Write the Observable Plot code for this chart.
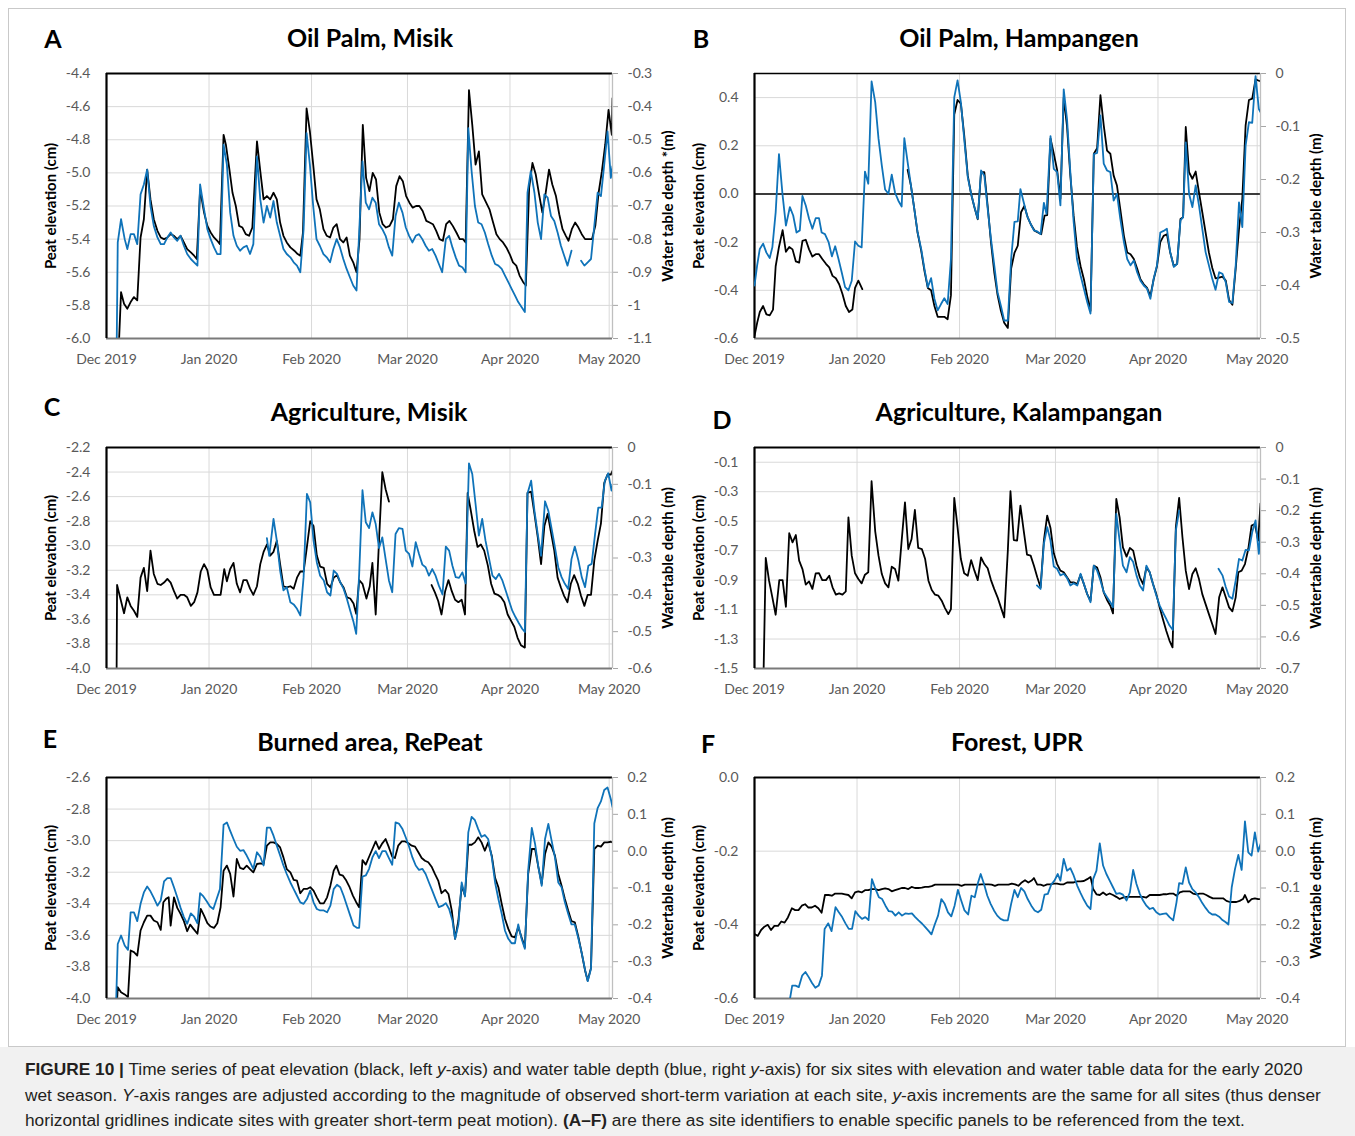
<!DOCTYPE html>
<html><head><meta charset="utf-8">
<script src="https://cdn.jsdelivr.net/npm/d3@7"></script>
<script src="https://cdn.jsdelivr.net/npm/@observablehq/plot@0.6"></script>
<style>
body{margin:0;background:#fff;}
#root{position:relative;width:1355px;height:1136px;overflow:hidden;font-family:Lato,"Open Sans",sans-serif;}
.abs{position:absolute;}
.title{font-weight:700;font-size:25px;color:#000;transform:translate(-50%,-50%);white-space:nowrap;}
.letter{font-weight:700;font-size:25px;color:#000;transform:translate(-50%,-50%);}
.ylab{font-weight:700;font-size:15px;color:#000;transform:translate(-50%,-50%) rotate(-90deg);white-space:nowrap;}
.cap{font-family:"Liberation Sans",Arial,sans-serif;font-size:17.3px;line-height:25.5px;color:#231f20;white-space:nowrap;}
</style></head>
<body><div id="root"></div>
<script>
// ---- shared axis ticks ----
const monthTicks = ["2019-12-01","2020-01-01","2020-02-01","2020-03-01","2020-04-01","2020-05-01"];

// ---- Panel A: Oil Palm, Misik ----
const A_leftTicks = [-6.0,-5.8,-5.6,-5.4,-5.2,-5.0,-4.8,-4.6,-4.4];
const A_rightTicks = [-1.1,-1.0,-0.9,-0.8,-0.7,-0.6,-0.5,-0.4,-0.3];
const A_peat = [[3.2,-6.3],[4.4,-5.72],[5.3,-5.79],[6.3,-5.82],[7.3,-5.78],[8.3,-5.75],[9.3,-5.77],[10.3,-5.39],[11.3,-5.28],[12.3,-4.98],[13.3,-5.16],[14.3,-5.28],[15.4,-5.35],[16.4,-5.39],[17.4,-5.40],[18.4,-5.39],[19.4,-5.37],[20.4,-5.38],[21.4,-5.40],[22.4,-5.38],[23.4,-5.42],[24.4,-5.46],[25.5,-5.48],[26.5,-5.50],[27.3,-5.52],[28.3,-5.10],[29.5,-5.24],[30.5,-5.32],[31.5,-5.36],[32.5,-5.39],[33.5,-5.41],[34.3,-5.43],[35.4,-4.77],[36.1,-4.83],[37.1,-4.97],[38.1,-5.12],[39.1,-5.20],[40.1,-5.32],[41.1,-5.33],[42.1,-5.37],[43.1,-5.38],[44.1,-5.33],[45.5,-4.81],[46.5,-4.99],[47.5,-5.16],[48.5,-5.14],[49.5,-5.16],[50.5,-5.12],[51.5,-5.16],[52.5,-5.30],[53.5,-5.38],[54.5,-5.42],[55.6,-5.45],[56.8,-5.47],[57.8,-5.49],[58.6,-5.50],[59.4,-5.36],[60.5,-4.61],[61.5,-4.75],[62.5,-4.95],[63.5,-5.16],[64.5,-5.22],[65.6,-5.34],[66.6,-5.38],[67.6,-5.39],[68.6,-5.33],[69.6,-5.31],[70.6,-5.40],[71.6,-5.42],[72.6,-5.39],[73.6,-5.50],[74.6,-5.54],[75.6,-5.60],[76.5,-5.40],[77.5,-4.71],[78.5,-5.03],[79.5,-5.11],[80.5,-5.00],[81.5,-5.04],[82.5,-5.24],[83.5,-5.31],[84.5,-5.33],[85.6,-5.32],[86.6,-5.28],[87.6,-5.08],[88.6,-5.02],[89.6,-5.05],[90.6,-5.14],[91.6,-5.18],[92.6,-5.21],[93.6,-5.20],[94.6,-5.20],[95.6,-5.23],[96.7,-5.29],[97.7,-5.30],[98.7,-5.31],[99.7,-5.35],[100.7,-5.40],[101.7,-5.41],[102.7,-5.31],[103.7,-5.29],[104.7,-5.32],[105.8,-5.36],[106.8,-5.40],[107.8,-5.40],[108.6,-5.42],[109.6,-4.50],[110.6,-4.71],[111.6,-4.95],[112.6,-4.87],[113.6,-5.13],[114.8,-5.18],[115.8,-5.22],[116.9,-5.30],[117.9,-5.37],[118.9,-5.40],[119.9,-5.42],[120.9,-5.45],[121.9,-5.49],[122.9,-5.54],[123.9,-5.56],[124.9,-5.62],[126.0,-5.66],[126.8,-5.68],[127.8,-5.09],[128.8,-4.94],[129.8,-5.01],[130.8,-5.13],[131.8,-5.24],[132.8,-5.12],[133.8,-4.98],[134.8,-5.07],[135.9,-5.14],[136.9,-5.25],[137.9,-5.34],[138.9,-5.38],[139.7,-5.41],[140.7,-5.34],[141.7,-5.30],[142.7,-5.33],[143.7,-5.37],[144.7,-5.40],[145.8,-5.40],[146.8,-5.40],[147.8,-5.32],[148.8,-5.12],[149.8,-4.99],[150.8,-4.83],[151.8,-4.62],[152.8,-4.77],[153.0,-4.55]];
const A_wt = [[3.0,-1.2],[3.4,-0.81],[4.4,-0.74],[5.5,-0.80],[6.3,-0.83],[7.3,-0.785],[8.3,-0.785],[9.3,-0.815],[10.3,-0.665],[11.3,-0.635],[12.3,-0.59],[13.3,-0.70],[14.3,-0.76],[15.4,-0.795],[16.4,-0.815],[17.4,-0.815],[18.4,-0.795],[19.4,-0.78],[20.4,-0.795],[21.4,-0.805],[22.4,-0.79],[23.4,-0.82],[24.4,-0.845],[25.5,-0.86],[26.5,-0.87],[27.5,-0.88],[28.3,-0.635],[29.5,-0.71],[30.5,-0.77],[31.5,-0.80],[32.5,-0.825],[33.5,-0.845],[34.5,-0.845],[35.4,-0.515],[36.4,-0.575],[37.4,-0.72],[38.4,-0.79],[39.4,-0.82],[40.4,-0.835],[41.4,-0.825],[42.4,-0.82],[43.4,-0.845],[44.4,-0.815],[45.5,-0.55],[46.5,-0.68],[47.5,-0.75],[48.5,-0.70],[49.5,-0.735],[50.5,-0.685],[51.5,-0.75],[52.5,-0.79],[53.5,-0.83],[54.5,-0.845],[55.6,-0.855],[56.6,-0.87],[57.6,-0.88],[58.6,-0.90],[59.6,-0.77],[60.5,-0.48],[61.5,-0.575],[62.5,-0.70],[63.5,-0.80],[64.5,-0.82],[65.6,-0.845],[66.6,-0.855],[67.6,-0.87],[68.6,-0.83],[69.6,-0.80],[70.6,-0.825],[71.6,-0.86],[72.6,-0.89],[73.6,-0.915],[74.6,-0.94],[75.6,-0.955],[76.4,-0.78],[77.4,-0.565],[78.4,-0.69],[79.4,-0.71],[80.4,-0.675],[81.4,-0.69],[82.4,-0.755],[83.4,-0.77],[84.4,-0.79],[85.4,-0.825],[86.4,-0.85],[87.4,-0.73],[88.4,-0.69],[89.5,-0.72],[90.5,-0.765],[91.5,-0.79],[92.5,-0.81],[93.5,-0.79],[94.5,-0.785],[95.5,-0.80],[96.5,-0.82],[97.5,-0.835],[98.5,-0.83],[99.5,-0.85],[100.5,-0.875],[101.5,-0.90],[102.6,-0.80],[103.6,-0.79],[104.6,-0.825],[105.6,-0.855],[106.6,-0.88],[107.6,-0.885],[108.6,-0.90],[109.4,-0.465],[110.4,-0.595],[111.4,-0.70],[112.4,-0.75],[113.4,-0.755],[114.4,-0.78],[115.4,-0.815],[116.5,-0.85],[117.5,-0.875],[118.5,-0.88],[119.5,-0.89],[120.5,-0.91],[121.5,-0.93],[122.5,-0.95],[123.5,-0.97],[124.5,-0.99],[125.5,-1.005],[126.5,-1.02],[127.3,-0.66],[128.3,-0.595],[129.4,-0.66],[130.4,-0.75],[131.4,-0.80],[132.4,-0.665],[133.4,-0.675],[134.4,-0.73],[135.4,-0.745],[136.4,-0.78],[137.4,-0.82],[138.4,-0.85],[139.4,-0.88],[140.6,-0.835],[142.0,null],[143.5,-0.865],[144.5,-0.88],[145.5,-0.87],[146.5,-0.86],[147.5,-0.76],[148.5,-0.66],[149.5,-0.67],[150.5,-0.575],[151.5,-0.475],[152.5,-0.615],[153.0,-0.58]];

// ---- Panel B: Oil Palm, Hampangen ----
const B_leftTicks = [-0.6,-0.4,-0.2,0.0,0.2,0.4];
const B_rightTicks = [-0.5,-0.4,-0.3,-0.2,-0.1,0];
const B_peat = [[0,-0.59],[0.8,-0.535],[1.6,-0.49],[2.6,-0.465],[3.6,-0.50],[4.6,-0.504],[5.6,-0.48],[6.4,-0.30],[7.4,-0.22],[8.5,-0.15],[9.5,-0.24],[10.5,-0.22],[11.5,-0.23],[12.5,-0.28],[13.5,-0.285],[14.5,-0.195],[15.5,-0.19],[16.5,-0.23],[17.5,-0.26],[18.5,-0.25],[19.5,-0.25],[20.5,-0.27],[21.6,-0.29],[22.6,-0.305],[23.6,-0.34],[24.6,-0.35],[25.6,-0.375],[26.6,-0.415],[27.6,-0.465],[28.6,-0.49],[29.6,-0.48],[30.4,-0.39],[31.4,-0.36],[32.6,-0.395],[40,null],[46.3,0.10],[47.3,0.035],[48.3,-0.06],[49.3,-0.16],[50.4,-0.235],[51.4,-0.32],[52.4,-0.39],[53.4,-0.40],[54.4,-0.465],[55.4,-0.51],[56.4,-0.51],[57.4,-0.51],[58.4,-0.52],[59.4,-0.42],[60.4,0.33],[61.4,0.39],[62.4,0.375],[63.4,0.245],[64.5,0.075],[65.5,0.0],[66.5,-0.055],[67.5,-0.105],[68.5,0.09],[69.5,0.09],[70.5,-0.05],[71.5,-0.20],[72.5,-0.325],[73.5,-0.42],[74.5,-0.485],[75.5,-0.535],[76.6,-0.556],[77.6,-0.31],[78.6,-0.245],[79.6,-0.215],[80.6,-0.076],[81.6,-0.05],[82.6,-0.097],[83.7,-0.13],[84.7,-0.153],[85.7,-0.16],[86.7,-0.167],[87.7,-0.09],[88.5,-0.088],[89.5,0.23],[90.5,0.167],[91.5,0.10],[92.5,-0.02],[93.5,0.40],[94.5,0.28],[95.5,0.076],[96.5,-0.09],[97.5,-0.22],[98.6,-0.30],[99.6,-0.354],[100.6,-0.424],[101.6,-0.486],[102.6,0.167],[103.6,0.19],[104.6,0.41],[105.6,0.285],[106.6,0.18],[107.6,0.167],[108.6,0.076],[109.6,0.035],[110.6,-0.063],[111.7,-0.174],[112.7,-0.243],[113.7,-0.25],[114.7,-0.27],[115.7,-0.31],[116.7,-0.354],[117.7,-0.375],[118.7,-0.39],[119.7,-0.424],[120.7,-0.354],[121.7,-0.30],[122.7,-0.20],[123.7,-0.174],[124.7,-0.167],[125.7,-0.243],[126.8,-0.30],[127.8,-0.29],[128.8,-0.104],[129.6,-0.097],[130.4,0.278],[131.4,0.09],[132.4,0.063],[133.4,0.093],[134.4,0.007],[135.4,-0.076],[136.4,-0.16],[137.4,-0.243],[138.4,-0.306],[139.4,-0.35],[140.5,-0.347],[141.5,-0.343],[142.5,-0.36],[143.5,-0.44],[144.5,-0.46],[145.5,-0.31],[146.5,-0.146],[147.5,-0.02],[148.5,0.285],[149.5,0.39],[150.5,0.396],[151.5,0.476],[152.5,0.47],[153.0,0.468]];
const B_wt = [[0,-0.40],[0.8,-0.362],[1.6,-0.331],[2.6,-0.321],[3.6,-0.338],[4.6,-0.348],[5.4,-0.328],[6.4,-0.262],[7.4,-0.152],[8.5,-0.23],[9.5,-0.287],[10.7,-0.252],[11.7,-0.268],[12.7,-0.30],[13.7,-0.296],[14.5,-0.231],[15.5,-0.249],[16.5,-0.274],[17.5,-0.293],[18.5,-0.273],[19.5,-0.273],[20.3,-0.30],[21.3,-0.303],[22.4,-0.318],[23.4,-0.345],[24.4,-0.326],[25.4,-0.35],[26.4,-0.376],[27.4,-0.403],[28.4,-0.409],[29.4,-0.391],[30.4,-0.317],[31.4,-0.325],[32.4,-0.328],[33.4,-0.185],[34.4,-0.208],[35.4,-0.015],[36.5,-0.054],[37.5,-0.123],[38.5,-0.174],[39.5,-0.219],[40.5,-0.227],[41.5,-0.191],[42.5,-0.225],[43.5,-0.24],[44.5,-0.251],[45.3,-0.122],[46.3,-0.167],[47.3,-0.211],[48.3,-0.255],[49.3,-0.299],[50.4,-0.331],[51.4,-0.369],[52.4,-0.403],[53.4,-0.386],[54.4,-0.425],[55.4,-0.447],[56.4,-0.435],[57.4,-0.424],[58.4,-0.435],[59.4,-0.35],[60.4,-0.045],[61.4,-0.013],[62.4,-0.054],[63.4,-0.123],[64.5,-0.196],[65.5,-0.227],[66.5,-0.252],[67.5,-0.274],[68.5,-0.183],[69.5,-0.193],[70.5,-0.255],[71.5,-0.312],[72.5,-0.362],[73.5,-0.413],[74.5,-0.438],[75.5,-0.466],[76.6,-0.466],[77.6,-0.35],[78.6,-0.28],[79.6,-0.279],[80.4,-0.218],[81.4,-0.243],[82.4,-0.268],[83.5,-0.284],[84.5,-0.296],[85.5,-0.298],[86.5,-0.303],[87.5,-0.244],[88.3,-0.265],[89.5,-0.118],[90.5,-0.18],[91.5,-0.186],[92.5,-0.249],[93.5,-0.03],[94.5,-0.086],[95.5,-0.186],[96.5,-0.28],[97.5,-0.35],[98.6,-0.381],[99.6,-0.406],[100.6,-0.431],[101.6,-0.453],[102.6,-0.152],[103.6,-0.15],[104.6,-0.079],[105.6,-0.17],[106.6,-0.183],[107.6,-0.186],[108.6,-0.24],[109.6,-0.227],[110.6,-0.274],[111.7,-0.318],[112.7,-0.35],[113.7,-0.362],[114.7,-0.353],[115.7,-0.375],[116.7,-0.391],[117.7,-0.40],[118.7,-0.406],[119.7,-0.425],[120.7,-0.387],[121.7,-0.362],[122.7,-0.30],[123.7,-0.297],[124.7,-0.293],[125.7,-0.337],[126.8,-0.365],[127.8,-0.359],[128.8,-0.277],[129.6,-0.271],[130.4,-0.13],[131.4,-0.227],[132.4,-0.252],[133.4,-0.211],[134.4,-0.249],[135.4,-0.293],[136.4,-0.337],[137.4,-0.362],[138.4,-0.387],[139.4,-0.408],[140.5,-0.375],[141.5,-0.378],[142.5,-0.394],[143.5,-0.431],[144.5,-0.433],[145.5,-0.362],[146.5,-0.243],[147.5,-0.29],[148.5,-0.136],[149.5,-0.092],[150.5,-0.093],[151.5,-0.005],[152.5,-0.067],[153.0,-0.073]];

// ---- Panel C: Agriculture, Misik ----
const C_leftTicks = [-4.0,-3.8,-3.6,-3.4,-3.2,-3.0,-2.8,-2.6,-2.4,-2.2];
const C_rightTicks = [-0.6,-0.5,-0.4,-0.3,-0.2,-0.1,0];
const C_peat = [[3.0,-4.3],[3.2,-3.32],[4.2,-3.43],[5.3,-3.55],[6.3,-3.42],[7.3,-3.49],[8.3,-3.53],[9.3,-3.58],[10.3,-3.26],[11.3,-3.18],[12.3,-3.37],[13.3,-3.04],[14.3,-3.23],[15.4,-3.31],[16.4,-3.32],[17.4,-3.30],[18.4,-3.27],[19.4,-3.30],[20.4,-3.37],[21.4,-3.43],[22.4,-3.40],[23.4,-3.40],[24.4,-3.42],[25.5,-3.49],[26.5,-3.46],[27.5,-3.38],[28.5,-3.21],[29.5,-3.15],[30.5,-3.20],[31.5,-3.34],[32.5,-3.40],[33.5,-3.40],[34.5,-3.40],[35.6,-3.19],[36.4,-3.29],[37.4,-3.19],[38.4,-3.14],[39.4,-3.31],[40.4,-3.38],[41.4,-3.28],[42.4,-3.28],[43.4,-3.35],[44.4,-3.40],[45.5,-3.33],[46.5,-3.15],[47.5,-3.05],[48.5,-2.99],[49.5,-3.08],[50.5,-3.05],[51.5,-2.96],[52.5,-3.15],[53.5,-3.33],[54.5,-3.34],[55.6,-3.33],[56.6,-3.35],[57.6,-3.26],[58.6,-3.21],[59.6,-3.21],[60.6,-3.01],[61.6,-2.80],[62.6,-2.84],[63.6,-3.08],[64.6,-3.17],[65.7,-3.18],[66.7,-3.31],[67.7,-3.34],[68.7,-3.26],[69.7,-3.24],[70.7,-3.30],[71.7,-3.34],[72.7,-3.42],[73.7,-3.43],[74.7,-3.47],[75.5,-3.555],[76.4,-3.28],[77.4,-3.31],[78.6,-3.43],[79.6,-3.33],[80.4,-3.14],[81.4,-3.56],[82.4,-2.96],[83.4,-2.40],[84.4,-2.54],[85.4,-2.64],[92,null],[98.3,-3.32],[99.3,-3.38],[100.3,-3.45],[101.3,-3.56],[102.4,-3.37],[103.4,-3.28],[104.4,-3.37],[105.4,-3.44],[106.4,-3.46],[107.4,-3.44],[108.4,-3.56],[109.2,-2.57],[110.2,-2.72],[111.2,-2.88],[112.2,-3.01],[113.2,-2.99],[114.2,-3.04],[115.3,-3.16],[116.3,-3.31],[117.3,-3.39],[118.3,-3.40],[119.3,-3.42],[120.3,-3.46],[121.3,-3.56],[122.3,-3.61],[123.3,-3.66],[124.3,-3.75],[125.3,-3.81],[126.5,-3.83],[127.3,-2.57],[128.4,-2.56],[129.4,-2.74],[130.4,-2.93],[131.4,-3.15],[132.4,-2.84],[133.4,-2.74],[134.4,-2.89],[135.4,-3.04],[136.4,-3.26],[137.4,-3.34],[138.4,-3.41],[139.4,-3.46],[140.4,-3.31],[141.4,-3.24],[142.5,-3.31],[143.5,-3.41],[144.5,-3.49],[145.5,-3.40],[146.5,-3.40],[147.5,-3.12],[148.5,-2.96],[149.5,-2.82],[150.5,-2.49],[151.5,-2.42],[152.5,-2.42],[153.0,-2.39]];
const C_wt = [[48.5,-0.246],[49.2,-0.294],[50.5,-0.194],[51.5,-0.253],[52.5,-0.334],[53.5,-0.388],[54.5,-0.379],[55.6,-0.42],[56.6,-0.426],[57.6,-0.438],[58.6,-0.456],[59.6,-0.352],[60.6,-0.126],[61.6,-0.149],[62.6,-0.253],[63.6,-0.312],[64.6,-0.348],[65.7,-0.361],[66.7,-0.393],[67.7,-0.402],[68.7,-0.334],[69.7,-0.343],[70.7,-0.366],[71.7,-0.384],[72.7,-0.411],[73.7,-0.443],[74.7,-0.474],[75.5,-0.506],[76.4,-0.343],[77.4,-0.116],[78.4,-0.203],[79.4,-0.219],[80.4,-0.176],[81.4,-0.208],[82.4,-0.273],[83.4,-0.244],[84.4,-0.303],[85.4,-0.361],[86.4,-0.393],[87.4,-0.235],[88.4,-0.219],[89.5,-0.221],[90.5,-0.28],[91.5,-0.289],[92.5,-0.323],[93.5,-0.257],[94.5,-0.289],[95.5,-0.318],[96.5,-0.325],[97.5,-0.348],[98.5,-0.33],[99.5,-0.348],[100.5,-0.375],[101.6,-0.399],[102.6,-0.269],[103.6,-0.28],[104.6,-0.321],[105.6,-0.352],[106.6,-0.354],[107.6,-0.339],[108.6,-0.369],[109.6,-0.043],[110.6,-0.072],[111.6,-0.154],[112.6,-0.239],[113.6,-0.194],[114.6,-0.253],[115.7,-0.303],[116.7,-0.348],[117.7,-0.357],[118.7,-0.343],[119.7,-0.361],[120.7,-0.388],[121.7,-0.416],[122.7,-0.443],[123.7,-0.461],[124.7,-0.477],[125.7,-0.492],[126.5,-0.501],[127.3,-0.125],[128.4,-0.09],[129.4,-0.172],[130.4,-0.235],[131.4,-0.294],[132.6,-0.146],[133.6,-0.172],[134.6,-0.221],[135.6,-0.271],[136.6,-0.325],[137.6,-0.352],[138.6,-0.37],[139.6,-0.384],[140.6,-0.303],[141.6,-0.269],[142.7,-0.307],[143.7,-0.352],[144.7,-0.379],[145.7,-0.321],[146.7,-0.316],[147.7,-0.237],[148.7,-0.163],[149.7,-0.163],[150.7,-0.09],[151.7,-0.07],[152.7,-0.117],[153.0,-0.1]];

// ---- Panel D: Agriculture, Kalampangan ----
const D_leftTicks = [-1.5,-1.3,-1.1,-0.9,-0.7,-0.5,-0.3,-0.1];
const D_rightTicks = [-0.7,-0.6,-0.5,-0.4,-0.3,-0.2,-0.1,0];
const D_peat = [[2.6,-1.7],[3.4,-0.75],[4.4,-0.904],[5.4,-1.017],[6.4,-1.135],[7.5,-0.90],[8.5,-0.90],[9.5,-1.081],[10.5,-0.582],[11.5,-0.644],[12.5,-0.594],[13.5,-0.768],[14.5,-0.825],[15.5,-0.931],[16.5,-0.909],[17.5,-0.96],[18.5,-0.854],[19.5,-0.852],[20.5,-0.90],[21.6,-0.90],[22.6,-0.87],[23.6,-0.949],[24.6,-0.999],[25.6,-0.99],[26.6,-0.999],[27.6,-0.977],[28.4,-0.474],[29.4,-0.734],[30.4,-0.854],[31.4,-0.893],[32.4,-0.922],[33.4,-0.863],[34.4,-0.847],[35.4,-0.229],[36.5,-0.569],[37.5,-0.734],[38.5,-0.859],[39.5,-0.922],[40.5,-0.949],[41.5,-0.809],[42.5,-0.825],[43.5,-0.904],[44.5,-0.632],[45.5,-0.372],[46.5,-0.689],[47.5,-0.621],[48.5,-0.424],[49.5,-0.682],[50.6,-0.689],[51.6,-0.757],[52.6,-0.904],[53.6,-0.967],[54.6,-0.999],[55.6,-1.006],[56.6,-1.04],[57.6,-1.09],[58.6,-1.131],[59.4,-1.097],[60.4,-0.342],[61.4,-0.542],[62.4,-0.757],[63.4,-0.854],[64.5,-0.87],[65.5,-0.764],[66.5,-0.836],[67.5,-0.90],[68.5,-0.746],[69.5,-0.791],[70.5,-0.82],[71.5,-0.90],[72.5,-0.961],[73.5,-1.017],[74.5,-1.085],[75.5,-1.153],[76.6,-0.70],[77.4,-0.297],[78.4,-0.628],[79.4,-0.632],[80.4,-0.394],[81.4,-0.564],[82.4,-0.727],[83.5,-0.734],[84.5,-0.802],[85.5,-0.881],[86.5,-0.949],[87.5,-0.632],[88.5,-0.462],[89.5,-0.546],[90.5,-0.718],[91.5,-0.791],[92.5,-0.836],[93.5,-0.847],[94.5,-0.881],[95.5,-0.915],[96.5,-0.915],[97.6,-0.927],[98.6,-0.863],[99.6,-0.927],[100.6,-0.995],[101.6,-1.04],[102.6,-0.802],[103.6,-0.814],[104.6,-0.881],[105.6,-0.983],[106.6,-1.035],[107.6,-1.074],[108.4,-1.126],[109.4,-0.349],[110.4,-0.474],[111.4,-0.678],[112.5,-0.741],[113.5,-0.682],[114.5,-0.70],[115.5,-0.802],[116.5,-0.881],[117.5,-0.927],[118.5,-0.814],[119.5,-0.847],[120.5,-0.927],[121.5,-0.995],[122.5,-1.085],[123.5,-1.165],[124.5,-1.244],[125.5,-1.312],[126.4,-1.357],[127.4,-0.541],[128.4,-0.342],[129.4,-0.609],[130.4,-0.836],[131.4,-0.961],[132.4,-0.859],[133.4,-0.82],[134.4,-0.893],[135.4,-0.995],[136.4,-1.063],[137.4,-1.131],[138.4,-1.198],[139.4,-1.266],[140.5,-1.017],[141.5,-0.949],[142.5,-1.017],[143.5,-1.085],[144.5,-1.112],[145.5,-1.017],[146.3,-0.847],[147.3,-0.836],[148.3,-0.791],[149.3,-0.689],[150.3,-0.53],[151.3,-0.519],[152.3,-0.632],[153.0,-0.38]];
const D_wt = [[85.4,-0.437],[86.5,-0.448],[87.5,-0.305],[88.5,-0.252],[89.5,-0.295],[90.5,-0.377],[91.5,-0.384],[92.5,-0.405],[93.5,-0.40],[94.5,-0.413],[95.5,-0.437],[96.5,-0.43],[97.6,-0.437],[98.6,-0.40],[99.6,-0.432],[100.6,-0.464],[101.6,-0.49],[102.6,-0.374],[103.6,-0.39],[104.6,-0.421],[105.6,-0.458],[106.6,-0.474],[107.6,-0.49],[108.4,-0.506],[109.4,-0.21],[110.4,-0.295],[111.4,-0.374],[112.5,-0.395],[113.5,-0.347],[114.5,-0.363],[115.5,-0.405],[116.5,-0.437],[117.5,-0.453],[118.5,-0.374],[119.5,-0.395],[120.5,-0.432],[121.5,-0.469],[122.5,-0.50],[123.5,-0.522],[124.5,-0.543],[125.5,-0.564],[126.5,-0.578],[127.4,-0.263],[128.4,-0.20],[134,null],[140.3,-0.384],[141.5,-0.405],[142.5,-0.442],[143.5,-0.472],[144.5,-0.479],[145.5,-0.421],[146.5,-0.353],[147.5,-0.358],[148.5,-0.324],[149.5,-0.326],[150.5,-0.268],[151.5,-0.231],[152.5,-0.337],[153.0,-0.27]];

// ---- Panel E: Burned area, RePeat ----
const E_leftTicks = [-4.0,-3.8,-3.6,-3.4,-3.2,-3.0,-2.8,-2.6];
const E_rightTicks = [-0.4,-0.3,-0.2,-0.1,0.0,0.1,0.2];
const E_peat = [[3.0,-4.1],[3.4,-3.928],[4.4,-3.96],[5.5,-3.974],[6.5,-3.99],[7.3,-3.696],[8.3,-3.706],[9.3,-3.728],[10.3,-3.569],[11.3,-3.517],[12.3,-3.475],[13.3,-3.475],[14.3,-3.506],[15.4,-3.517],[16.4,-3.565],[17.2,-3.39],[18.0,-3.369],[18.8,-3.359],[19.4,-3.538],[20.4,-3.359],[21.4,-3.426],[22.4,-3.464],[23.4,-3.51],[24.4,-3.574],[25.3,-3.532],[26.3,-3.559],[27.5,-3.59],[28.5,-3.432],[29.5,-3.475],[30.5,-3.523],[31.5,-3.544],[32.5,-3.553],[33.5,-3.523],[34.5,-3.422],[35.4,-3.19],[36.4,-3.158],[37.4,-3.211],[38.4,-3.354],[39.4,-3.116],[40.4,-3.173],[41.4,-3.18],[42.4,-3.158],[43.4,-3.18],[44.4,-3.201],[45.5,-3.148],[46.5,-3.144],[47.5,-3.148],[48.5,-3.032],[49.5,-3.011],[50.5,-3.011],[51.5,-3.021],[52.5,-3.043],[53.5,-3.106],[54.5,-3.18],[55.6,-3.201],[56.6,-3.249],[57.6,-3.254],[58.6,-3.333],[59.6,-3.306],[60.6,-3.306],[61.6,-3.295],[62.6,-3.317],[63.6,-3.359],[64.6,-3.397],[65.7,-3.397],[66.7,-3.359],[67.7,-3.285],[68.7,-3.19],[69.5,-3.158],[70.5,-3.215],[71.5,-3.222],[72.5,-3.253],[73.5,-3.295],[74.5,-3.348],[75.5,-3.39],[76.4,-3.422],[77.4,-3.123],[78.4,-3.152],[79.4,-3.102],[80.4,-3.053],[81.4,-3.005],[82.4,-3.053],[83.4,-3.017],[84.4,-2.99],[85.4,-3.043],[86.4,-3.102],[87.2,-3.11],[88.2,-3.032],[89.3,-3.005],[90.3,-3.005],[91.3,-3.017],[92.3,-3.032],[93.3,-3.038],[94.3,-3.074],[95.3,-3.11],[96.3,-3.127],[97.3,-3.137],[98.3,-3.165],[99.3,-3.211],[100.3,-3.253],[101.3,-3.333],[102.4,-3.312],[103.4,-3.338],[104.4,-3.443],[105.4,-3.622],[106.4,-3.506],[107.4,-3.285],[108.4,-3.348],[109.4,-3.026],[110.4,-3.026],[111.4,-3.011],[112.4,-2.979],[113.4,-3.011],[114.4,-3.064],[115.4,-3.011],[116.5,-3.095],[117.5,-3.236],[118.5,-3.295],[119.5,-3.401],[120.5,-3.496],[121.5,-3.559],[122.5,-3.607],[123.5,-3.612],[124.5,-3.548],[125.5,-3.612],[126.5,-3.675],[127.5,-3.211],[128.6,-3.053],[129.6,-3.053],[130.6,-3.169],[131.6,-3.274],[132.6,-3.085],[133.6,-3.011],[134.6,-3.038],[135.6,-3.095],[136.6,-3.211],[137.6,-3.285],[138.6,-3.369],[139.6,-3.443],[140.6,-3.51],[141.6,-3.517],[142.7,-3.612],[143.7,-3.713],[144.7,-3.822],[145.5,-3.886],[146.5,-3.806],[147.5,-3.053],[148.5,-3.032],[149.5,-3.038],[150.5,-3.011],[151.5,-3.011],[152.5,-3.007],[153.0,-3.011]];
const E_wt = [[2.8,-0.45],[3.4,-0.252],[4.4,-0.229],[5.5,-0.256],[6.5,-0.268],[7.3,-0.166],[8.3,-0.166],[9.3,-0.19],[10.3,-0.143],[11.3,-0.112],[12.3,-0.096],[13.3,-0.109],[14.3,-0.127],[15.4,-0.148],[16.4,-0.134],[17.4,-0.082],[18.4,-0.073],[19.4,-0.073],[20.4,-0.098],[21.4,-0.125],[22.4,-0.154],[23.4,-0.179],[24.4,-0.197],[25.5,-0.169],[26.5,-0.178],[27.5,-0.196],[28.3,-0.114],[29.3,-0.123],[30.3,-0.136],[31.3,-0.15],[32.3,-0.157],[33.3,-0.13],[34.3,-0.103],[35.4,0.072],[36.4,0.078],[37.4,0.055],[38.4,0.033],[39.4,0.012],[40.4,0.001],[41.4,0.003],[42.4,-0.012],[43.4,-0.03],[44.4,-0.048],[45.5,-0.003],[46.5,-0.015],[47.5,-0.039],[48.5,0.064],[49.5,0.064],[50.5,0.042],[51.5,0.015],[52.5,-0.012],[53.5,-0.039],[54.5,-0.062],[55.6,-0.085],[56.6,-0.103],[57.6,-0.121],[58.6,-0.139],[59.6,-0.143],[60.6,-0.13],[61.6,-0.107],[62.6,-0.139],[63.6,-0.157],[64.6,-0.161],[65.7,-0.161],[66.7,-0.166],[67.7,-0.148],[68.7,-0.103],[69.7,-0.091],[70.7,-0.098],[71.7,-0.121],[72.7,-0.148],[73.7,-0.175],[74.7,-0.202],[75.7,-0.208],[76.4,-0.208],[77.4,-0.069],[78.4,-0.066],[79.4,-0.048],[80.4,-0.017],[81.4,0.0],[82.4,-0.019],[83.4,0.0],[84.4,0.0],[85.4,-0.019],[86.4,-0.037],[87.4,0.078],[88.4,0.075],[89.5,0.06],[90.5,0.037],[91.5,0.012],[92.5,-0.017],[93.5,-0.039],[94.5,-0.051],[95.5,-0.048],[96.5,-0.062],[97.5,-0.085],[98.5,-0.107],[99.5,-0.13],[100.5,-0.152],[101.6,-0.148],[102.6,-0.141],[103.6,-0.157],[104.6,-0.188],[105.4,-0.238],[106.4,-0.199],[107.4,-0.085],[108.4,-0.123],[109.4,0.051],[110.4,0.093],[111.4,0.084],[112.4,0.06],[113.4,0.039],[114.4,0.044],[115.4,0.033],[116.5,-0.017],[117.5,-0.085],[118.5,-0.13],[119.5,-0.17],[120.5,-0.216],[121.5,-0.238],[122.5,-0.25],[123.5,-0.25],[124.5,-0.199],[125.5,-0.238],[126.5,-0.265],[127.5,-0.053],[128.6,0.063],[129.6,0.019],[130.6,-0.044],[131.6,-0.094],[132.6,0.033],[133.6,0.074],[134.6,0.028],[135.6,-0.017],[136.6,-0.085],[137.6,-0.098],[138.6,-0.139],[139.6,-0.17],[140.6,-0.199],[141.6,-0.199],[142.7,-0.238],[143.7,-0.277],[144.7,-0.322],[145.5,-0.353],[146.5,-0.319],[147.5,0.075],[148.5,0.117],[149.5,0.135],[150.5,0.166],[151.5,0.173],[152.5,0.141],[153.0,0.12]];

// ---- Panel F: Forest, UPR ----
const F_leftTicks = [-0.6,-0.4,-0.2,0.0];
const F_rightTicks = [-0.4,-0.3,-0.2,-0.1,0.0,0.1,0.2];
const F_peat = [[0,-0.425],[1.0,-0.43],[2.0,-0.414],[3.0,-0.405],[4.0,-0.40],[5.0,-0.414],[6.0,-0.403],[7.1,-0.403],[8.1,-0.391],[9.1,-0.394],[10.1,-0.38],[11.3,-0.355],[12.3,-0.36],[13.3,-0.36],[14.3,-0.348],[15.3,-0.344],[16.3,-0.353],[17.3,-0.353],[18.3,-0.348],[19.3,-0.355],[20.3,-0.367],[21.3,-0.319],[22.4,-0.319],[23.4,-0.321],[24.4,-0.315],[25.4,-0.315],[26.4,-0.315],[27.4,-0.317],[28.4,-0.319],[29.4,-0.328],[30.4,-0.312],[31.4,-0.309],[32.4,-0.312],[33.4,-0.306],[34.4,-0.306],[35.4,-0.303],[36.5,-0.303],[37.5,-0.306],[38.5,-0.303],[39.5,-0.301],[40.5,-0.303],[41.5,-0.309],[42.5,-0.306],[43.5,-0.303],[44.5,-0.30],[45.5,-0.30],[46.5,-0.303],[47.5,-0.297],[48.5,-0.30],[49.5,-0.30],[50.6,-0.299],[51.6,-0.297],[52.6,-0.297],[53.6,-0.295],[54.6,-0.291],[56.6,-0.291],[58.6,-0.291],[60.6,-0.291],[61.6,-0.291],[62.6,-0.294],[63.6,-0.291],[65.7,-0.291],[67.7,-0.291],[68.7,-0.29],[70.7,-0.29],[71.7,-0.291],[72.7,-0.294],[73.7,-0.291],[74.7,-0.291],[75.8,-0.291],[76.8,-0.291],[77.8,-0.288],[78.8,-0.29],[79.8,-0.294],[80.8,-0.285],[81.8,-0.279],[82.8,-0.285],[83.9,-0.279],[84.5,-0.273],[85.5,-0.291],[86.5,-0.291],[87.5,-0.294],[88.5,-0.29],[89.5,-0.29],[90.5,-0.288],[91.5,-0.288],[92.5,-0.29],[93.5,-0.29],[94.5,-0.285],[95.5,-0.285],[96.5,-0.285],[97.6,-0.282],[98.6,-0.282],[99.6,-0.281],[100.6,-0.276],[101.6,-0.27],[102.4,-0.303],[103.4,-0.317],[104.4,-0.319],[105.4,-0.312],[106.4,-0.319],[107.4,-0.315],[108.4,-0.319],[109.4,-0.324],[110.4,-0.33],[111.4,-0.326],[112.5,-0.324],[114.5,-0.324],[116.5,-0.324],[117.5,-0.324],[118.5,-0.326],[119.5,-0.319],[121.5,-0.319],[122.5,-0.319],[123.5,-0.317],[124.5,-0.317],[125.5,-0.315],[126.6,-0.315],[127.6,-0.321],[128.6,-0.312],[129.6,-0.309],[131.6,-0.309],[132.6,-0.315],[133.6,-0.317],[134.6,-0.315],[135.6,-0.315],[136.6,-0.319],[137.6,-0.324],[138.6,-0.328],[141.7,-0.328],[142.7,-0.335],[143.7,-0.338],[145.7,-0.338],[146.7,-0.335],[147.7,-0.33],[148.3,-0.319],[149.3,-0.339],[150.3,-0.33],[151.3,-0.328],[152.3,-0.33],[153.0,-0.33]];
const F_wt = [[10.0,-0.44],[11.4,-0.365],[12.4,-0.365],[13.4,-0.369],[14.4,-0.338],[15.4,-0.328],[16.4,-0.342],[17.4,-0.358],[18.4,-0.371],[19.4,-0.365],[20.4,-0.338],[21.2,-0.211],[22.3,-0.196],[23.3,-0.217],[24.5,-0.152],[25.5,-0.166],[26.5,-0.179],[27.5,-0.196],[28.5,-0.211],[29.5,-0.211],[30.5,-0.163],[31.5,-0.175],[32.5,-0.184],[33.5,-0.179],[34.5,-0.187],[35.5,-0.076],[36.6,-0.103],[37.6,-0.125],[38.6,-0.13],[39.6,-0.148],[40.6,-0.163],[41.6,-0.164],[42.6,-0.175],[43.6,-0.166],[44.6,-0.175],[45.6,-0.169],[46.6,-0.17],[47.6,-0.169],[48.6,-0.179],[49.6,-0.188],[50.7,-0.197],[51.7,-0.207],[52.7,-0.217],[53.5,-0.226],[54.5,-0.199],[55.5,-0.175],[56.5,-0.13],[57.5,-0.143],[58.5,-0.166],[59.5,-0.177],[60.5,-0.148],[61.5,-0.105],[62.5,-0.134],[63.5,-0.161],[64.6,-0.172],[65.6,-0.121],[66.6,-0.125],[67.6,-0.085],[68.4,-0.062],[69.4,-0.089],[70.4,-0.121],[71.4,-0.143],[72.4,-0.161],[73.4,-0.175],[74.4,-0.184],[75.4,-0.188],[76.6,-0.188],[77.6,-0.143],[78.6,-0.105],[79.6,-0.125],[80.6,-0.10],[81.6,-0.109],[82.6,-0.13],[83.7,-0.148],[84.7,-0.161],[85.7,-0.166],[86.7,-0.159],[87.7,-0.118],[88.7,-0.116],[89.7,-0.091],[90.7,-0.08],[91.7,-0.062],[92.5,-0.08],[93.5,-0.021],[94.5,-0.053],[95.5,-0.046],[96.5,-0.066],[97.6,-0.094],[98.6,-0.114],[99.6,-0.132],[100.6,-0.148],[101.6,-0.157],[102.4,-0.076],[103.4,-0.053],[104.4,0.021],[105.4,-0.039],[106.4,-0.062],[107.4,-0.08],[108.4,-0.098],[109.4,-0.116],[110.4,-0.114],[111.4,-0.118],[112.5,-0.134],[113.5,-0.112],[114.5,-0.051],[115.5,-0.089],[116.5,-0.116],[117.5,-0.134],[118.5,-0.148],[119.5,-0.157],[120.5,-0.154],[121.5,-0.166],[122.5,-0.172],[123.5,-0.17],[124.5,-0.169],[125.5,-0.179],[126.6,-0.188],[127.6,-0.139],[128.4,-0.087],[129.4,-0.089],[130.4,-0.044],[131.4,-0.085],[132.4,-0.103],[133.4,-0.112],[134.4,-0.125],[135.4,-0.141],[136.4,-0.154],[137.4,-0.166],[138.4,-0.172],[139.4,-0.172],[140.5,-0.178],[141.5,-0.187],[142.5,-0.193],[143.3,-0.199],[144.3,-0.098],[145.3,-0.048],[146.3,-0.01],[147.3,-0.051],[148.3,0.081],[149.3,-0.003],[150.3,-0.012],[151.3,0.051],[152.3,-0.001],[153.0,0.019]];

// ---- helpers ----
const t0 = Date.UTC(2019, 11, 1);
const dayDate = d => new Date(t0 + d * 864e5);
const rows = arr => arr.map(([d, v]) => ({date: dayDate(d), value: v}));
const months = monthTicks.map(s => new Date(s + "T00:00:00Z"));
const fmt1 = d => d.toFixed(1);
const fmtGen = d => String(+d.toFixed(2));
const xDomain = [dayDate(0), dayDate(153)];

const panels = [
  {L:"A", title:"Oil Palm, Misik", left:106, top:73, w:506, h:265, ld:[-6.0,-4.4], rd:[-1.1,-0.3], lt:A_leftTicks, rt:A_rightTicks, rf:fmtGen, peat:A_peat, wt:A_wt, rlab:"Water table depth *(m)", tp:[370,37], lp:[53,38]},
  {L:"B", title:"Oil Palm, Hampangen", left:754, top:73, w:506, h:265, ld:[-0.6,0.5], rd:[-0.5,0], lt:B_leftTicks, rt:B_rightTicks, rf:fmtGen, peat:B_peat, wt:B_wt, rlab:"Water table depth (m)", tp:[1019,37], lp:[701,38], zero:true, thinTop:true},
  {L:"C", title:"Agriculture, Misik", left:106, top:447, w:506, h:221, ld:[-4.0,-2.2], rd:[-0.6,0], lt:C_leftTicks, rt:C_rightTicks, rf:fmtGen, peat:C_peat, wt:C_wt, rlab:"Watertable depth (m)", tp:[369,411], lp:[52,406]},
  {L:"D", title:"Agriculture, Kalampangan", left:754, top:447, w:506, h:221, ld:[-1.5,0.0], rd:[-0.7,0], lt:D_leftTicks, rt:D_rightTicks, rf:fmtGen, peat:D_peat, wt:D_wt, rlab:"Watertable depth (m)", tp:[1019,411], lp:[722,419]},
  {L:"E", title:"Burned area, RePeat", left:106, top:777, w:506, h:221, ld:[-4.0,-2.6], rd:[-0.4,0.2], lt:E_leftTicks, rt:E_rightTicks, rf:fmt1, peat:E_peat, wt:E_wt, rlab:"Watertable depth (m)", tp:[370,741], lp:[50,738]},
  {L:"F", title:"Forest, UPR", left:754, top:777, w:506, h:221, ld:[-0.6,0.0], rd:[-0.4,0.2], lt:F_leftTicks, rt:F_rightTicks, rf:fmt1, peat:F_peat, wt:F_wt, rlab:"Watertable depth (m)", tp:[1017,741], lp:[708,743]}
];

const root = document.getElementById("root");
function place(node, x, y) { node.style.position = "absolute"; node.style.left = x + "px"; node.style.top = y + "px"; root.appendChild(node); return node; }
function label(cls, text, x, y) { const d = document.createElement("div"); d.className = "abs " + cls; d.textContent = text; place(d, x, y); return d; }

// figure frame
const frame = document.createElement("div");
frame.style.cssText = "border:1px solid #c9c9c9;width:1338px;height:1039px;box-sizing:border-box;";
place(frame, 8, 8);

const mL = 70, mR = 70, mT = 12, mB = 34;
const baseStyle = {fontFamily: "Lato, 'Open Sans', sans-serif", fontSize: "14px", background: "transparent", overflow: "visible"};

for (const p of panels) {
  const W = p.w + mL + mR, H = p.h + mT + mB;
  const peatPlot = Plot.plot({
    width: W, height: H, marginLeft: mL, marginRight: mR, marginTop: mT, marginBottom: mB,
    style: baseStyle,
    x: {type: "utc", domain: xDomain},
    y: {domain: p.ld},
    marks: [
      Plot.gridY({ticks: p.lt, stroke: "#d9d9d9", strokeOpacity: 1}),
      Plot.gridX({ticks: months, stroke: "#d9d9d9", strokeOpacity: 1}),
      Plot.axisY({ticks: p.lt, tickSize: 0, tickPadding: 16, tickFormat: fmt1, fill: "#595959", label: null}),
      Plot.axisX({ticks: months, tickSize: 0, tickPadding: 16, tickFormat: d3.utcFormat("%b %Y"), fill: "#595959", label: null}),
      ...(p.zero ? [Plot.ruleY([0], {stroke: "#000", strokeWidth: 1.6})] : []),
      Plot.line(rows(p.peat), {x: "date", y: "value", stroke: "#000", strokeWidth: 1.8, clip: true}),
      Plot.ruleY([p.ld[1]], {stroke: "#000", strokeWidth: p.thinTop ? 1.3 : 2.2}),
      Plot.ruleY([p.ld[0]], {stroke: "#7a7a7a", strokeWidth: 2}),
      Plot.ruleX([xDomain[0]], {stroke: "#000", strokeWidth: 2.2})
    ]
  });
  const wtPlot = Plot.plot({
    width: W, height: H, marginLeft: mL, marginRight: mR, marginTop: mT, marginBottom: mB,
    style: baseStyle,
    x: {type: "utc", domain: xDomain, axis: null},
    y: {domain: p.rd},
    marks: [
      Plot.axisY({anchor: "right", ticks: p.rt, tickSize: 5, tickPadding: 10, tickFormat: p.rf, stroke: "#a6a6a6", fill: "#595959", label: null}),
      Plot.ruleX([xDomain[1]], {stroke: "#bfbfbf", strokeWidth: 1.3}),
      Plot.line(rows(p.wt), {x: "date", y: "value", stroke: "#0f73b9", strokeWidth: 1.8, clip: true})
    ]
  });
  place(peatPlot, p.left - mL, p.top - mT);
  place(wtPlot, p.left - mL, p.top - mT);
  label("title", p.title, p.tp[0], p.tp[1]);
  label("letter", p.L, p.lp[0], p.lp[1]);
  label("ylab", "Peat elevation (cm)", p.left - 56, p.top + p.h / 2);
  label("ylab", p.rlab, p.left + p.w + 55, p.top + p.h / 2);
}

// caption
const capBg = document.createElement("div");
capBg.style.cssText = "width:1355px;height:89px;background:#f1f1f1;";
place(capBg, 0, 1047);
const cap = document.createElement("div");
cap.className = "cap";
cap.innerHTML = '<b>FIGURE 10 |</b> Time series of peat elevation (black, left <i>y</i>-axis) and water table depth (blue, right <i>y</i>-axis) for six sites with elevation and water table data for the early 2020<br>wet season. <i>Y</i>-axis ranges are adjusted according to the magnitude of observed short-term variation at each site, <i>y</i>-axis increments are the same for all sites (thus denser<br>horizontal gridlines indicate sites with greater short-term peat motion). <b>(A–F)</b> are there as site identifiers to enable specific panels to be referenced from the text.';
place(cap, 25, 1057);
</script>
</body></html>
